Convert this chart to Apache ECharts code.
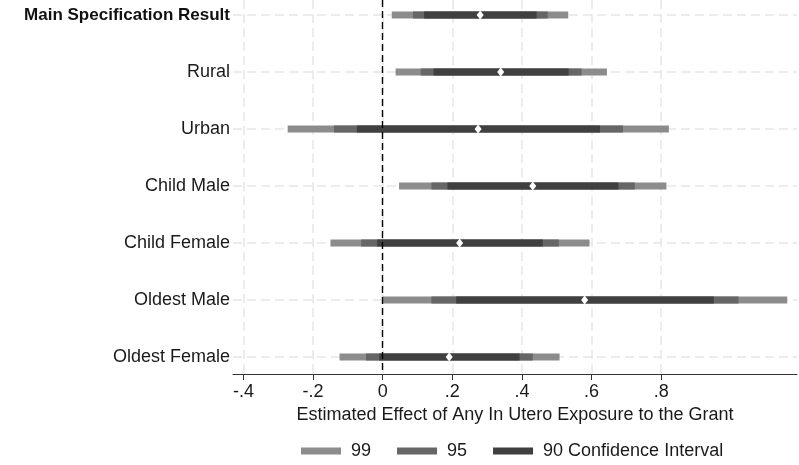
<!DOCTYPE html>
<html><head><meta charset="utf-8">
<script src="https://cdn.jsdelivr.net/npm/echarts@6/dist/echarts.min.js"></script>
<style>html,body{margin:0;padding:0;background:#fff}#c{width:799px;height:465px}</style>
</head><body><div id="c"></div>
<script>
const categories = ['Main Specification Result','Rural','Urban','Child Male','Child Female','Oldest Male','Oldest Female'];
const pointEst = [0.280, 0.339, 0.274, 0.431, 0.221, 0.580, 0.191];
const lo99 = [0.026, 0.037, -0.273, 0.047, -0.150, -0.001, -0.124];
const hi99 = [0.533, 0.644, 0.822, 0.815, 0.594, 1.162, 0.508];
const lo95 = [0.087, 0.109, -0.140, 0.140, -0.062, 0.140, -0.048];
const hi95 = [0.474, 0.571, 0.690, 0.724, 0.506, 1.022, 0.431];
const lo90 = [0.119, 0.146, -0.074, 0.186, -0.016, 0.211, -0.010];
const hi90 = [0.442, 0.534, 0.624, 0.677, 0.460, 0.951, 0.393];
const xTicks = [-0.4, -0.2, 0, 0.2, 0.4, 0.6, 0.8];
const xTickLabels = ['-.4', '-.2', '0', '.2', '.4', '.6', '.8'];
const rows = categories.map((c, i) => i + 1);

const FONT = "'Liberation Sans', Arial, sans-serif";
function ciData(lo, hi) { return rows.map((r, i) => [lo[i], hi[i], r]); }
function renderBar(params, api) {
  const a = api.coord([api.value(0), api.value(2)]);
  const b = api.coord([api.value(1), api.value(2)]);
  const h = 7;
  return { type: 'rect', shape: { x: a[0], y: a[1] - h / 2, width: b[0] - a[0], height: h }, style: api.style() };
}
function ciSeries(name, lo, hi, color) {
  return { name, type: 'custom', renderItem: renderBar, data: ciData(lo, hi),
    encode: { x: [0, 1], y: 2 }, itemStyle: { color }, z: 10, silent: true };
}

const chart = echarts.init(document.getElementById('c'), null, { renderer: 'canvas' });
chart.setOption({
  animation: false,
  textStyle: { fontFamily: FONT },
  grid: { left: 233, right: 2, top: 0, bottom: 91 },
  xAxis: {
    type: 'value', min: -0.43, max: 1.19,
    name: 'Estimated Effect of Any In Utero Exposure to the Grant',
    nameLocation: 'middle', nameGap: 31,
    nameTextStyle: { fontSize: 18, color: '#1a1a1a', fontFamily: FONT },
    axisLine: { show: true, lineStyle: { color: '#333', width: 1 } },
    axisTick: { show: true, length: 6, customValues: xTicks, lineStyle: { color: '#333' } },
    axisLabel: { customValues: xTicks, fontSize: 18, color: '#1a1a1a', margin: 9, fontFamily: FONT,
      formatter: v => { const i = xTicks.findIndex(t => Math.abs(t - v) < 1e-9); return i >= 0 ? xTickLabels[i] : ''; } },
    splitLine: { show: false }
  },
  yAxis: {
    type: 'value', inverse: true, min: 0.737, max: 7.298,
    axisLine: { show: false }, axisTick: { show: false }, splitLine: { show: false },
    axisLabel: { customValues: rows, fontSize: 18, color: '#1a1a1a', margin: 3, fontFamily: FONT,
      formatter: v => { const i = Math.round(v) - 1; return i === 0 ? '{b|' + categories[0] + '}' : categories[i]; },
      rich: { b: { fontWeight: 'bold', fontSize: 17, color: '#111', fontFamily: FONT } } }
  },
  legend: {
    data: ['99', '95', '90 Confidence Interval'], left: 301, top: 442,
    icon: 'rect', itemWidth: 40, itemHeight: 7, itemGap: 26, padding: 0,
    formatter: n => ' ' + n,
    textStyle: { fontSize: 18, color: '#1a1a1a', fontFamily: FONT }
  },
  series: [
    { type: 'line', data: [], silent: true, z: 1,
      markLine: { silent: true, symbol: 'none', label: { show: false }, animation: false, z: 1,
        lineStyle: { color: '#e6e6e6', type: [9, 5], width: 1.5 },
        data: rows.map(r => ({ yAxis: r })).concat(xTicks.map(t => ({ xAxis: t }))) } },
    ciSeries('99', lo99, hi99, '#8c8c8c'),
    ciSeries('95', lo95, hi95, '#666666'),
    ciSeries('90 Confidence Interval', lo90, hi90, '#404040'),
    { type: 'line', data: [], silent: true, z: 11,
      markLine: { silent: true, symbol: 'none', label: { show: false }, animation: false, z: 11,
        lineStyle: { color: '#000', type: [7, 4], width: 1.4 },
        data: [{ xAxis: 0 }] } },
    { name: 'point', type: 'scatter', symbol: 'diamond', symbolSize: [7, 9], z: 12, silent: true,
      itemStyle: { color: '#ffffff', opacity: 1 },
      data: rows.map((r, i) => [pointEst[i], r]) }
  ]
});
</script></body></html>
